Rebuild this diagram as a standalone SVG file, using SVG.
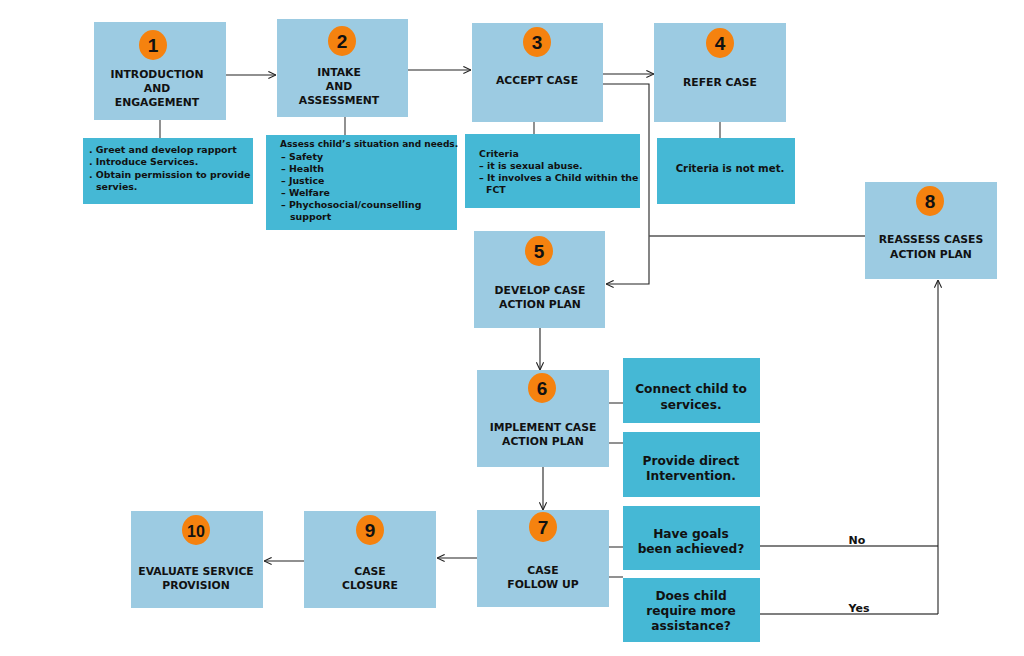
<svg xmlns="http://www.w3.org/2000/svg" width="1024" height="656" viewBox="0 0 1024 656">
<style>
.box{fill:#9ccbe2;}
.det{fill:#45b8d5;}
.num{fill:#f5820f;}
text{font-family:"DejaVu Sans","Liberation Sans",sans-serif;font-weight:bold;fill:#111;}
.t{font-size:10.8px;text-anchor:middle;}
.n{font-family:"Liberation Sans",Arial,sans-serif;font-size:19px;text-anchor:middle;}
.d{font-size:9.4px;}
.q{font-size:12.2px;text-anchor:middle;}
.ln{stroke:#555;stroke-width:1.3;fill:none;}
.ar{stroke:#222;stroke-width:1.1;fill:none;marker-end:url(#ah);}
</style>
<defs>
<marker id="ah" viewBox="0 0 10 10" refX="9.5" refY="5" markerWidth="9" markerHeight="9" markerUnits="userSpaceOnUse" orient="auto">
<path d="M1,1 L9.5,5 L1,9" fill="none" stroke="#222" stroke-width="1.2"/>
</marker>
</defs>
<rect width="1024" height="656" fill="#fff"/>
<g id="connectors">
<path class="ar" d="M226,75 H276"/>
<path class="ar" d="M408,70 H471"/>
<path class="ar" d="M603,74 H654"/>
<path class="ar" d="M603,84 H649 V284 H606"/>
<path class="ln" d="M649,236 H865"/>
<path class="ln" d="M160,120 V138"/>
<path class="ln" d="M345,117 V135"/>
<path class="ln" d="M534,122 V134"/>
<path class="ln" d="M720,122 V138"/>
<path class="ar" d="M540,328 V370"/>
<path class="ln" d="M609,403 H623"/>
<path class="ln" d="M609,443 H623"/>
<path class="ar" d="M543,467 V510"/>
<path class="ln" d="M609,547 H623"/>
<path class="ln" d="M609,577 H623"/>
<path class="ln" d="M760,546 H938"/>
<path class="ln" d="M760,614 H938"/>
<path class="ar" d="M938,614 V280"/>
<path class="ar" d="M477,558 H437"/>
<path class="ar" d="M304,561 H264"/>
<text x="857" y="544" style="font-size:11px;text-anchor:middle">No</text>
<text x="859" y="612" style="font-size:11px;text-anchor:middle">Yes</text>
</g>
<g id="node1">
<rect class="box" x="94" y="22" width="132" height="98"/>
<ellipse class="num" cx="153" cy="45" rx="14" ry="15"/>
<text class="n" x="153" y="52">1</text>
<text class="t" x="157" y="78">INTRODUCTION</text>
<text class="t" x="157" y="92">AND</text>
<text class="t" x="157" y="106">ENGAGEMENT</text>
</g>
<g id="detail1">
<rect class="det" x="83" y="138" width="170" height="66"/>
<text class="d" x="89" y="153">. Greet and develop rapport</text>
<text class="d" x="89" y="165">. Introduce Services.</text>
<text class="d" x="89" y="178">. Obtain permission to provide</text>
<text class="d" x="96" y="190">servies.</text>
</g>
<g id="node2">
<rect class="box" x="277" y="19" width="131" height="98"/>
<ellipse class="num" cx="342" cy="41" rx="14" ry="15"/>
<text class="n" x="342" y="48">2</text>
<text class="t" x="339" y="76">INTAKE</text>
<text class="t" x="339" y="90">AND</text>
<text class="t" x="339" y="104">ASSESSMENT</text>
</g>
<g id="detail2">
<rect class="det" x="266" y="135" width="191" height="95"/>
<text class="d" x="280" y="147" style="font-size:9px">Assess child’s situation and needs.</text>
<text class="d" x="281" y="160">– Safety</text>
<text class="d" x="281" y="172">– Health</text>
<text class="d" x="281" y="184">– Justice</text>
<text class="d" x="281" y="196">– Welfare</text>
<text class="d" x="281" y="208">– Phychosocial/counselling</text>
<text class="d" x="290" y="220">support</text>
</g>
<g id="node3">
<rect class="box" x="472" y="23" width="131" height="99"/>
<ellipse class="num" cx="537" cy="42" rx="14" ry="15"/>
<text class="n" x="537" y="49">3</text>
<text class="t" x="537" y="84">ACCEPT CASE</text>
</g>
<g id="detail3">
<rect class="det" x="465" y="134" width="175" height="74"/>
<text class="d" x="479" y="157">Criteria</text>
<text class="d" x="479" y="169">– it is sexual abuse.</text>
<text class="d" x="479" y="181">– It involves a Child within the</text>
<text class="d" x="486" y="193">FCT</text>
</g>
<g id="node4">
<rect class="box" x="654" y="23" width="132" height="99"/>
<ellipse class="num" cx="720" cy="43" rx="14" ry="15"/>
<text class="n" x="720" y="50">4</text>
<text class="t" x="720" y="86">REFER CASE</text>
</g>
<g id="detail4">
<rect class="det" x="657" y="138" width="138" height="66"/>
<text x="730" y="172" style="font-size:10.2px;text-anchor:middle">Criteria is not met.</text>
</g>
<g id="node5">
<rect class="box" x="474" y="231" width="131" height="97"/>
<ellipse class="num" cx="539" cy="251" rx="14" ry="15"/>
<text class="n" x="539" y="258">5</text>
<text class="t" x="540" y="294">DEVELOP CASE</text>
<text class="t" x="540" y="308">ACTION PLAN</text>
</g>
<g id="node8">
<rect class="box" x="865" y="182" width="132" height="97"/>
<ellipse class="num" cx="930" cy="201" rx="14" ry="15"/>
<text class="n" x="930" y="208">8</text>
<text class="t" x="931" y="243">REASSESS CASES</text>
<text class="t" x="931" y="258">ACTION PLAN</text>
</g>
<g id="node6">
<rect class="box" x="477" y="370" width="132" height="97"/>
<ellipse class="num" cx="542" cy="388" rx="14" ry="15"/>
<text class="n" x="542" y="395">6</text>
<text class="t" x="543" y="431">IMPLEMENT CASE</text>
<text class="t" x="543" y="445">ACTION PLAN</text>
</g>
<g id="detail6a">
<rect class="det" x="623" y="358" width="137" height="65"/>
<text class="q" x="691" y="393">Connect child to</text>
<text class="q" x="691" y="409">services.</text>
</g>
<g id="detail6b">
<rect class="det" x="623" y="432" width="137" height="65"/>
<text class="q" x="691" y="465">Provide direct</text>
<text class="q" x="691" y="480">Intervention.</text>
</g>
<g id="node7">
<rect class="box" x="477" y="510" width="132" height="97"/>
<ellipse class="num" cx="543" cy="527" rx="14" ry="15"/>
<text class="n" x="543" y="534">7</text>
<text class="t" x="543" y="574">CASE</text>
<text class="t" x="543" y="588">FOLLOW UP</text>
</g>
<g id="detail7a">
<rect class="det" x="623" y="506" width="137" height="64"/>
<text class="q" x="691" y="538">Have goals</text>
<text class="q" x="691" y="553">been achieved?</text>
</g>
<g id="detail7b">
<rect class="det" x="623" y="578" width="137" height="64"/>
<text class="q" x="691" y="600">Does child</text>
<text class="q" x="691" y="615">require more</text>
<text class="q" x="691" y="630">assistance?</text>
</g>
<g id="node9">
<rect class="box" x="304" y="511" width="132" height="97"/>
<ellipse class="num" cx="370" cy="530" rx="14" ry="15"/>
<text class="n" x="370" y="537">9</text>
<text class="t" x="370" y="575">CASE</text>
<text class="t" x="370" y="589">CLOSURE</text>
</g>
<g id="node10">
<rect class="box" x="131" y="511" width="132" height="97"/>
<ellipse class="num" cx="196" cy="530" rx="14" ry="15"/>
<text class="n" x="196" y="536.5" style="font-size:16px">10</text>
<text class="t" x="196" y="575">EVALUATE SERVICE</text>
<text class="t" x="196" y="589">PROVISION</text>
</g>
</svg>
